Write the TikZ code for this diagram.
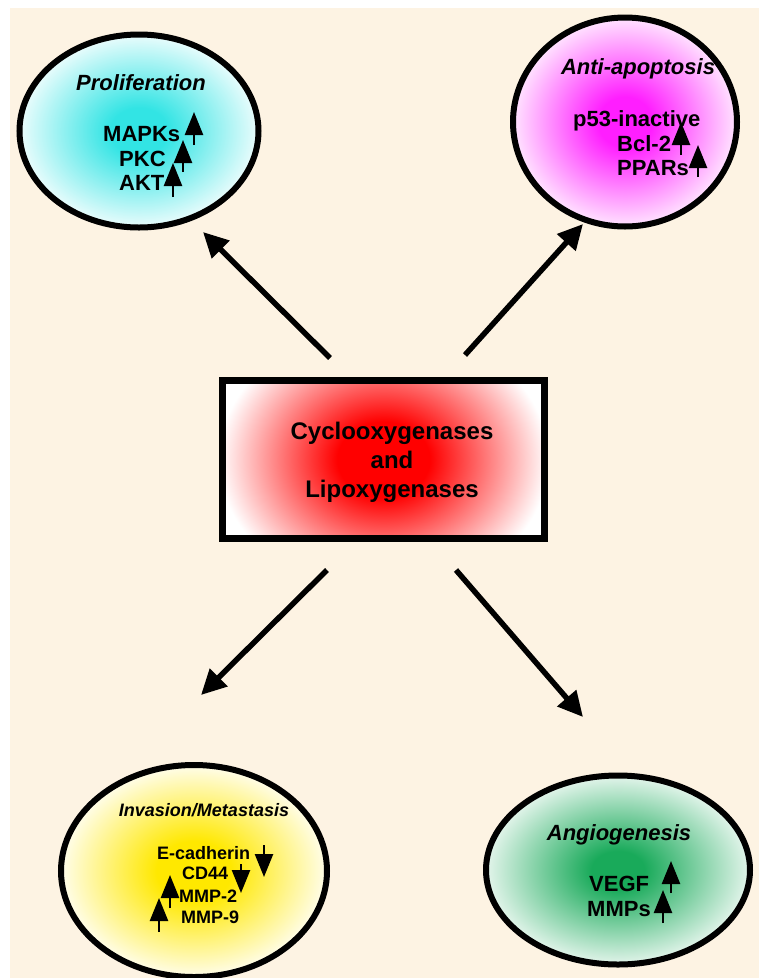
\documentclass[tikz,border=0pt]{standalone}
\usepackage{fontspec}
\setmainfont{Liberation Sans}
\usetikzlibrary{shapes.geometric,arrows.meta}
\definecolor{cream}{HTML}{FDF3E3}
\definecolor{cyanc}{RGB}{50,228,228}
\definecolor{magc}{RGB}{255,30,255}
\definecolor{yelc}{RGB}{255,232,0}
\definecolor{grnc}{RGB}{25,170,90}
\definecolor{redc}{RGB}{255,0,0}
\pgfdeclareradialshading{cyanshade}{\pgfpoint{0bp}{0bp}}{color(0bp)=(cyanc); color(6bp)=(cyanc); color(25bp)=(cyanc!10!white); color(50bp)=(white)}
\pgfdeclareradialshading{magshade}{\pgfpoint{0bp}{0bp}}{color(0bp)=(magc); color(6bp)=(magc); color(25bp)=(magc!12!white); color(50bp)=(white)}
\pgfdeclareradialshading{yelshade}{\pgfpoint{0bp}{0bp}}{color(0bp)=(yelc); color(7bp)=(yelc); color(25bp)=(yelc!8!white); color(50bp)=(white)}
\pgfdeclareradialshading{grnshade}{\pgfpoint{0bp}{0bp}}{color(0bp)=(grnc); color(5bp)=(grnc); color(25bp)=(grnc!12!white); color(50bp)=(white)}
\pgfdeclareradialshading{redshade}{\pgfpoint{0bp}{0bp}}{color(0bp)=(redc); color(7bp)=(redc); color(25bp)=(white); color(50bp)=(white)}
\tikzset{
  bubble/.style={ellipse, draw=black, line width=6pt, inner sep=0pt},
  lab/.style={font=\fontsize{22}{26}\selectfont\bfseries, inner sep=0pt},
  ttl/.style={font=\fontsize{22}{26}\selectfont\bfseries\itshape, inner sep=0pt},
  slab/.style={font=\fontsize{18}{21}\selectfont\bfseries, inner sep=0pt},
  sttl/.style={font=\fontsize{18}{21}\selectfont\bfseries\itshape, inner sep=0pt},
  bigarrow/.style={line width=5.5pt, -{Triangle[length=25pt,width=24pt]}},
  updown/.style={line width=2.5pt, -{Triangle[length=23pt,width=18pt]}},
}
\begin{document}
\begin{tikzpicture}[x=1pt,y=-1pt]
\useasboundingbox (0,0) rectangle (759,978);
\fill[cream] (10,8) rectangle (759,978);

% ellipses
\node[bubble, shading=cyanshade, minimum width=239pt, minimum height=193pt] (prolif) at (139,131) {};
\node[bubble, shading=magshade, minimum width=224pt, minimum height=209pt] (antiap) at (625,122) {};
\node[bubble, shading=yelshade, minimum width=266pt, minimum height=212pt] (invas) at (194,871) {};
\node[bubble, shading=grnshade, minimum width=264pt, minimum height=189pt] (angio) at (618,870) {};

% central box
\node[draw=black, line width=7pt, minimum width=322pt, minimum height=158pt, inner sep=0pt,
      path picture={\shade[shading=redshade] ([xshift=-165pt,yshift=-135pt]path picture bounding box.center) rectangle ([xshift=165pt,yshift=135pt]path picture bounding box.center);}]
      (cox) at (383.5,459.5) {};
\node[font=\fontsize{24}{29}\selectfont\bfseries, align=center, inner sep=0pt] (coxtxt) at (392,462) {Cyclooxygenases\\and\\Lipoxygenases};

% big arrows
\coordinate (t1) at (330,358); \coordinate (h1) at (203,232);
\coordinate (t2) at (465,355); \coordinate (h2) at (583,224);
\coordinate (t3) at (327,570); \coordinate (h3) at (201,695);
\coordinate (t4) at (456,570); \coordinate (h4) at (583,717);
\draw[bigarrow] (t1) -- (h1);
\draw[bigarrow] (t2) -- (h2);
\draw[bigarrow] (t3) -- (h3);
\draw[bigarrow] (t4) -- (h4);

% Proliferation
\node[ttl, anchor=base] (pt) at (141,90) {Proliferation};
\node[lab, anchor=base west] (mapk) at (103,141) {MAPKs};
\node[lab, anchor=base west] (pkc) at (119,166) {PKC};
\node[lab, anchor=base west] (akt) at (119,190) {AKT};
\draw[updown] (194,145) -- (194,112);
\draw[updown] (183,172) -- (183,140);
\draw[updown] (173,197) -- (173,163);

% Anti-apoptosis
\node[ttl, anchor=base] (at) at (638,74) {Anti-apoptosis};
\node[lab, anchor=base west] (p53) at (573,126) {p53-inactive};
\node[lab, anchor=base west] (bcl) at (617,151) {Bcl-2};
\node[lab, anchor=base west] (ppar) at (617,175) {PPARs};
\draw[updown] (681,155) -- (681,122);
\draw[updown] (698,177) -- (698,145);

% Invasion
\node[sttl, anchor=base] (it) at (204,816) {Invasion/Metastasis};
\node[slab, anchor=base west] (ecad) at (157,859) {E-cadherin};
\node[slab, anchor=base west] (cd44) at (182,879) {CD44};
\node[slab, anchor=base west] (mmp2) at (179,902) {MMP-2};
\node[slab, anchor=base west] (mmp9) at (181,923) {MMP-9};
\draw[updown] (264,845) -- (264,877);
\draw[updown] (241,864) -- (241,893);
\draw[updown] (170,908) -- (170,875);
\draw[updown] (159,932) -- (159,898);

% Angiogenesis
\node[ttl, anchor=base] (ant) at (619,840) {Angiogenesis};
\node[lab, anchor=base west] (vegf) at (589,891) {VEGF};
\node[lab, anchor=base west] (mmps) at (587,916) {MMPs};
\draw[updown] (671,893) -- (671,861);
\draw[updown] (663,923) -- (663,890);
\end{tikzpicture}
\end{document}
